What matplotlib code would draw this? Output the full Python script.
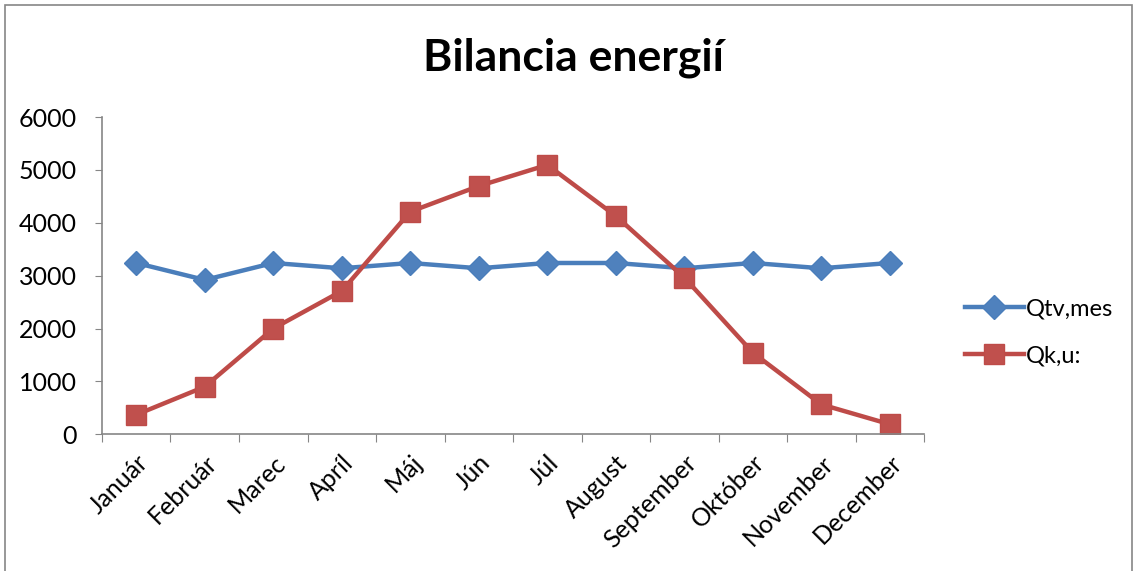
import numpy as np
import matplotlib
matplotlib.use('Agg')
import matplotlib.pyplot as plt
from matplotlib.patches import Rectangle

#energy balance chart, two monthly series

months = ['Január', 'Február', 'Marec', 'Apríl', 'Máj', 'Jún', 'Júl',
          'August', 'September', 'Október', 'November', 'December']
q_tv_mes = [3240, 2920, 3240, 3140, 3240, 3140, 3240, 3240, 3140, 3240, 3140, 3240]
q_k_u = [370, 900, 2000, 2710, 4210, 4695, 5095, 4130, 2965, 1545, 565, 190]

BLUE = '#4A7EBB'
RED = '#BE4B48'

plt.rcParams['font.family'] = ['Lato', 'DejaVu Sans']

fig = plt.figure(figsize = (11.37, 5.71), dpi = 100)
ax = fig.add_axes([0.0897, 0.2394, 0.7230, 0.5556])

x = np.arange(len(months))
ax.plot(x, q_tv_mes, color = BLUE, lw = 3.2, marker = 'D', ms = 12,
        mfc = '#4F81BD', mec = BLUE, label = 'Qtv,mes')
ax.plot(x, q_k_u, color = RED, lw = 3.2, marker = 's', ms = 14,
        mfc = '#C0504D', mec = RED, label = 'Qk,u:')

ax.set_xlim(-0.5, 11.5)
ax.set_ylim(0, 6000)
ax.set_yticks(range(0, 6001, 1000))
ax.tick_params(axis = 'y', labelsize = 18, length = 5, color = '#868686', pad = 13)

# tick marks on the category borders, labels in the middle
ax.set_xticks(np.arange(-0.5, 12, 1))
ax.set_xticklabels([])
ax.tick_params(axis = 'x', which = 'major', length = 6, color = '#868686')
ax.set_xticks(x, minor = True)
ax.set_xticklabels(months, minor = True, rotation = 45, ha = 'right',
                   rotation_mode = 'anchor', fontsize = 18)
ax.tick_params(axis = 'x', which = 'minor', length = 0, pad = 12)

for s in ['top', 'right']:
    ax.spines[s].set_visible(False)
for s in ['left', 'bottom']:
    ax.spines[s].set_color('#868686')
    ax.spines[s].set_linewidth(1.2)

fig.suptitle('Bilancia energií', fontsize = 32, fontweight = 'bold', x = 0.504, y = 0.935)

fig.legend(loc = 'center left', bbox_to_anchor = (0.83, 0.418), frameon = False,
           fontsize = 17, handlelength = 2.5, labelspacing = 1.1, handletextpad = 0.1)

# chart area border
fig.add_artist(Rectangle((0.004, -0.01), 0.992, 1.001, transform = fig.transFigure,
                         fill = False, ec = '#868686', lw = 1.2))

fig.savefig('out.png', dpi = 100)
